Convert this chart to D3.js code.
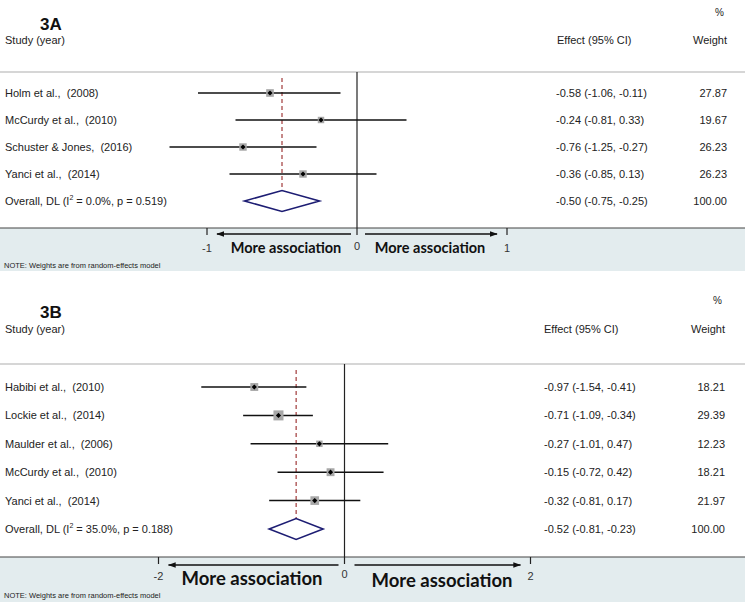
<!DOCTYPE html>
<html><head><meta charset="utf-8">
<script src="https://cdn.jsdelivr.net/npm/d3@7"></script>
<style>html,body{margin:0;padding:0;background:#fff;} svg{display:block;} text{white-space:pre;}</style>
</head><body>
<svg id="chart" width="745" height="602"></svg>
<script>
// ---- Panel 3A data ----
const studiesA = ["Holm et al.,  (2008)", "McCurdy et al.,  (2010)", "Schuster & Jones,  (2016)", "Yanci et al.,  (2014)"];
const effectA = [-0.58, -0.24, -0.76, -0.36];
const lowerA  = [-1.06, -0.81, -1.25, -0.85];
const upperA  = [-0.11, 0.33, -0.27, 0.13];
const weightA = [27.87, 19.67, 26.23, 26.23];
const overallA = {label: "Overall, DL (I", i2: "0.0%", p: "0.519", est: -0.50, lo: -0.75, hi: -0.25, w: 100.00};
const ticksA = [-1, 0, 1];

// ---- Panel 3B data ----
const studiesB = ["Habibi et al.,  (2010)", "Lockie et al.,  (2014)", "Maulder et al.,  (2006)", "McCurdy et al.,  (2010)", "Yanci et al.,  (2014)"];
const effectB = [-0.97, -0.71, -0.27, -0.15, -0.32];
const lowerB  = [-1.54, -1.09, -1.01, -0.72, -0.81];
const upperB  = [-0.41, -0.34, 0.47, 0.42, 0.17];
const weightB = [18.21, 29.39, 12.23, 18.21, 21.97];
const overallB = {label: "Overall, DL (I", i2: "35.0%", p: "0.188", est: -0.52, lo: -0.81, hi: -0.23, w: 100.00};
const ticksB = [-2, 0, 2];

const svg = d3.select("#chart");
const FONT = "'Liberation Sans', Arial, sans-serif";
const f2 = v => (+v).toFixed(2);

function drawPanel(cfg) {
  const g = svg.append("g");
  const n = cfg.studies.length;
  const x = d3.scaleLinear().domain(cfg.domain).range(cfg.xRange);
  const y = d3.scalePoint().domain(d3.range(n + 1)).range([cfg.rowTop, cfg.rowBottom]);

  // band
  g.append("rect").attr("x", 0).attr("y", cfg.bottomLine).attr("width", 745)
    .attr("height", cfg.bandBottom - cfg.bottomLine).attr("fill", "#e3ecee");
  // lines
  g.append("line").attr("x1", 0).attr("x2", 745).attr("y1", cfg.topLine).attr("y2", cfg.topLine)
    .attr("stroke", "#c9c9c9").attr("stroke-width", 1.6);
  g.append("line").attr("x1", 0).attr("x2", 745).attr("y1", cfg.bottomLine).attr("y2", cfg.bottomLine)
    .attr("stroke", "#444").attr("stroke-width", 1.2);

  // headers
  g.append("text").attr("x", cfg.titleX).attr("y", cfg.titleY).text(cfg.title)
    .attr("font-family", FONT).attr("font-weight", "bold").attr("font-size", 17).attr("fill", "#111");
  g.append("text").attr("x", 5).attr("y", cfg.headY).text("Study (year)")
    .attr("font-family", FONT).attr("font-size", 11).attr("fill", "#222");
  g.append("text").attr("x", cfg.effX).attr("y", cfg.headY).text("Effect (95% CI)")
    .attr("font-family", FONT).attr("font-size", 11).attr("fill", "#222");
  g.append("text").attr("x", cfg.wX).attr("y", cfg.headY).text("Weight")
    .attr("font-family", FONT).attr("font-size", 11).attr("fill", "#222").attr("text-anchor", "end");
  g.append("text").attr("x", cfg.wX - 3).attr("y", cfg.pctY).text("%")
    .attr("font-family", FONT).attr("font-size", 10).attr("fill", "#222").attr("text-anchor", "end");

  // zero line
  g.append("line").attr("x1", x(0)).attr("x2", x(0)).attr("y1", cfg.topLine).attr("y2", cfg.bottomLine + 7)
    .attr("stroke", "#222").attr("stroke-width", 1.2);
  // overall dashed line
  g.append("line").attr("x1", x(cfg.overall.est)).attr("x2", x(cfg.overall.est))
    .attr("y1", cfg.topLine + 6).attr("y2", y(n) + 11)
    .attr("stroke", "#a13a3a").attr("stroke-width", 1.2).attr("stroke-dasharray", "4,3");

  const rows = d3.range(n).map(i => ({name: cfg.studies[i], est: cfg.effect[i], lo: cfg.lower[i], hi: cfg.upper[i], w: cfg.weight[i]}));
  const rg = g.selectAll("g.row").data(rows).join("g").attr("class", "row");
  rg.append("text").attr("x", 5).attr("y", (d, i) => y(i) + 4).text(d => d.name)
    .attr("font-family", FONT).attr("font-size", 11).attr("fill", "#222");
  rg.append("line").attr("x1", d => x(d.lo)).attr("x2", d => x(d.hi))
    .attr("y1", (d, i) => y(i)).attr("y2", (d, i) => y(i)).attr("stroke", "#111").attr("stroke-width", 1.5);
  rg.append("rect")
    .attr("x", d => x(d.est) - cfg.sq * Math.sqrt(d.w) / 2)
    .attr("y", (d, i) => y(i) - cfg.sq * Math.sqrt(d.w) / 2)
    .attr("width", d => cfg.sq * Math.sqrt(d.w)).attr("height", d => cfg.sq * Math.sqrt(d.w))
    .attr("fill", "#a8a8a8");
  rg.append("path")
    .attr("d", (d, i) => { const cx = x(d.est), cy = y(i), r = 2.6; return `M${cx - r},${cy}L${cx},${cy - r}L${cx + r},${cy}L${cx},${cy + r}Z`; })
    .attr("fill", "#000");
  rg.append("text").attr("x", cfg.effValX).attr("y", (d, i) => y(i) + 4)
    .text(d => `${f2(d.est)} (${f2(d.lo)}, ${f2(d.hi)})`)
    .attr("font-family", FONT).attr("font-size", 11).attr("fill", "#222");
  rg.append("text").attr("x", cfg.wX).attr("y", (d, i) => y(i) + 4).text(d => f2(d.w))
    .attr("font-family", FONT).attr("font-size", 11).attr("fill", "#222").attr("text-anchor", "end");

  // overall row
  const o = cfg.overall, oy = y(n);
  const ot = g.append("text").attr("x", 5).attr("y", oy + 4)
    .attr("font-family", FONT).attr("font-size", 11).attr("fill", "#222");
  ot.append("tspan").text(o.label);
  ot.append("tspan").text("2").attr("font-size", 7).attr("dy", -5);
  ot.append("tspan").text(` = ${o.i2}, p = ${o.p})`).attr("dy", 5);
  g.append("path")
    .attr("d", `M${x(o.lo)},${oy}L${x(o.est)},${oy - 10.5}L${x(o.hi)},${oy}L${x(o.est)},${oy + 10.5}Z`)
    .attr("fill", "#fff").attr("stroke", "#1d1d73").attr("stroke-width", 1.6);
  g.append("text").attr("x", cfg.effValX).attr("y", oy + 4)
    .text(`${f2(o.est)} (${f2(o.lo)}, ${f2(o.hi)})`)
    .attr("font-family", FONT).attr("font-size", 11).attr("fill", "#222");
  g.append("text").attr("x", cfg.wX).attr("y", oy + 4).text(f2(o.w))
    .attr("font-family", FONT).attr("font-size", 11).attr("fill", "#222").attr("text-anchor", "end");

  // axis ticks
  const ticks = cfg.ticks.filter(t => t !== 0);
  g.selectAll("line.tick").data(ticks).join("line").attr("class", "tick")
    .attr("x1", d => x(d)).attr("x2", d => x(d)).attr("y1", cfg.bottomLine).attr("y2", cfg.bottomLine + 7)
    .attr("stroke", "#222").attr("stroke-width", 1.2);
  g.selectAll("text.tl").data(cfg.ticks).join("text").attr("class", "tl")
    .attr("x", d => x(d)).attr("y", d => d === 0 ? cfg.tickY - 2 : cfg.tickY).text(d => String(d))
    .attr("font-family", FONT).attr("font-size", cfg.tickFs).attr("fill", "#333").attr("text-anchor", "middle");

  // arrows
  const defsId = "ah" + cfg.title;
  svg.append("defs").append("marker").attr("id", defsId).attr("viewBox", "0 0 10 10")
    .attr("refX", 9).attr("refY", 5).attr("markerWidth", 5).attr("markerHeight", 5).attr("orient", "auto-start-reverse")
    .append("path").attr("d", "M0,1.5L10,5L0,8.5Z").attr("fill", "#111");
  const x0 = x(0);
  g.append("line").attr("x1", x0 - cfg.arrGap).attr("x2", x(cfg.ticks[0]) + cfg.arrEnd)
    .attr("y1", cfg.arrowY).attr("y2", cfg.arrowY).attr("stroke", "#111").attr("stroke-width", 1.6)
    .attr("marker-end", `url(#${defsId})`);
  g.append("line").attr("x1", x0 + cfg.arrGap2).attr("x2", x(cfg.ticks[2]) - cfg.arrEnd)
    .attr("y1", cfg.arrowY).attr("y2", cfg.arrowY).attr("stroke", "#111").attr("stroke-width", 1.6)
    .attr("marker-end", `url(#${defsId})`);
  g.append("text").attr("x", cfg.lblL).attr("y", cfg.lblY).text("More association")
    .attr("font-family", "Lato, 'Open Sans', sans-serif").attr("font-weight", "bold").attr("font-size", cfg.lblFs)
    .attr("fill", "#111").attr("text-anchor", "middle");
  g.append("text").attr("x", cfg.lblR).attr("y", cfg.lblY + cfg.lblRdy).text("More association")
    .attr("font-family", "Lato, 'Open Sans', sans-serif").attr("font-weight", "bold").attr("font-size", cfg.lblFs)
    .attr("fill", "#111").attr("text-anchor", "middle");

  g.append("text").attr("x", 4).attr("y", cfg.noteY).text("NOTE: Weights are from random-effects model")
    .attr("font-family", FONT).attr("font-size", 7.5).attr("fill", "#222");
}

drawPanel({
  title: "3A", studies: studiesA, effect: effectA, lower: lowerA, upper: upperA, weight: weightA,
  overall: overallA, ticks: ticksA, domain: [-1, 1], xRange: [207, 507],
  titleX: 40, titleY: 30, pctY: 16, headY: 44, effX: 557, effValX: 556, wX: 727,
  topLine: 72, rowTop: 93, rowBottom: 201, bottomLine: 228, bandBottom: 271,
  sq: 1.45, tickY: 252, tickFs: 11, arrowY: 234, arrGap: 6, arrGap2: 8, arrEnd: 10,
  lblL: 286, lblR: 430, lblY: 253, lblRdy: 0, lblFs: 14.5, noteY: 268
});
drawPanel({
  title: "3B", studies: studiesB, effect: effectB, lower: lowerB, upper: upperB, weight: weightB,
  overall: overallB, ticks: ticksB, domain: [-2, 2], xRange: [158.5, 530.5],
  titleX: 40, titleY: 318, pctY: 304, headY: 333, effX: 544, effValX: 544, wX: 725,
  topLine: 364, rowTop: 387, rowBottom: 529, bottomLine: 557, bandBottom: 602,
  sq: 1.85, tickY: 580, tickFs: 11, arrowY: 565, arrGap: 6, arrGap2: 10, arrEnd: 10,
  lblL: 252, lblR: 442, lblY: 585, lblRdy: 2, lblFs: 18.5, noteY: 598
});
</script>
</body></html>
